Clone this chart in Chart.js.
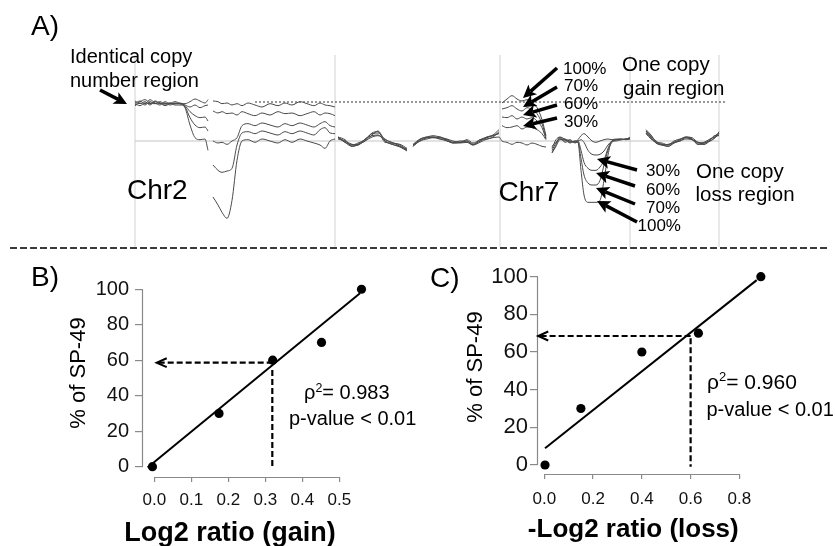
<!DOCTYPE html>
<html><head><meta charset="utf-8">
<script src="https://cdn.jsdelivr.net/npm/chart.js@4.4.0/dist/chart.umd.min.js"></script>
<style>
html,body{margin:0;padding:0;background:#fff;}
#page{position:relative;width:835px;height:546px;overflow:hidden;font-family:"Liberation Sans",Arial,sans-serif;color:#000;}
.t{position:absolute;white-space:nowrap;line-height:1;}
canvas{position:absolute;}
.sup{font-size:0.62em;position:relative;top:-0.55em;}
</style></head><body><div id="page">
<canvas id="cA" width="835" height="250" style="left:0;top:0"></canvas>
<canvas id="cB" width="420" height="296" style="left:0;top:250px"></canvas>
<canvas id="cC" width="425" height="296" style="left:410px;top:250px"></canvas>
<div style="position:absolute;left:10px;top:247px;width:820px;height:2px;background:repeating-linear-gradient(to right,#3a3a3a 0 7px,transparent 7px 10px);"></div>

<div class="t" style="font-size:28px;left:31px;top:11.5px;">A)</div>
<div class="t" style="font-size:20px;left:70px;top:46.4px;">Identical copy</div>
<div class="t" style="font-size:20px;left:70px;top:69.8px;">number region</div>
<div class="t" style="font-size:28px;left:127px;top:176.3px;">Chr2</div>
<div class="t" style="font-size:28px;left:498.6px;top:178px;">Chr7</div>
<div class="t" style="font-size:17px;left:563px;top:59.6px;">100%</div>
<div class="t" style="font-size:17px;left:564px;top:77.3px;">70%</div>
<div class="t" style="font-size:17px;left:564px;top:94.9px;">60%</div>
<div class="t" style="font-size:17px;left:564px;top:112.9px;">30%</div>
<div class="t" style="font-size:20.5px;left:622px;top:54.3px;">One copy</div>
<div class="t" style="font-size:20.5px;left:623px;top:77.6px;">gain region</div>
<div class="t" style="font-size:17px;left:646px;top:162.3px;">30%</div>
<div class="t" style="font-size:17px;left:646px;top:180.6px;">60%</div>
<div class="t" style="font-size:17px;left:646px;top:198.9px;">70%</div>
<div class="t" style="font-size:17px;left:637.5px;top:216.6px;">100%</div>
<div class="t" style="font-size:20.5px;left:696px;top:160.6px;">One copy</div>
<div class="t" style="font-size:20.5px;left:695.5px;top:183.6px;">loss region</div>

<div class="t" style="font-size:28px;left:31px;top:263px;">B)</div>
<div class="t" style="font-size:28px;left:430px;top:263.8px;">C)</div>
<div class="t" style="font-size:20px;left:304px;top:382px;">ρ<span class="sup">2</span>= 0.983</div>
<div class="t" style="font-size:20px;left:289px;top:408px;">p-value &lt; 0.01</div>
<div class="t" style="font-size:21px;left:707px;top:370.5px;">ρ<span class="sup">2</span>= 0.960</div>
<div class="t" style="font-size:20px;left:706.5px;top:399px;">p-value &lt; 0.01</div>
<div class="t" style="font-size:22px;left:3px;top:362.3px;width:150px;text-align:center;transform:rotate(-90deg);">% of SP-49</div>
<div class="t" style="font-size:22px;left:400px;top:355.7px;width:150px;text-align:center;transform:rotate(-90deg);">% of SP-49</div>
<div class="t" style="font-size:27px;font-weight:bold;left:80px;top:518.8px;width:300px;text-align:center;">Log2 ratio (gain)</div>
<div class="t" style="font-size:26px;font-weight:bold;left:483.3px;top:514.7px;width:300px;text-align:center;">-Log2 ratio (loss)</div>
</div>
<script>
// ===================== DATA =====================
// Panel A: genome position index (Chr2 ... Chr7 ... ) and log2 ratio per SP-49 dilution
const genomePos = [0,5,10,15,20,25,30,35,40,45,50, 55,60,65,70,73, 75,
 78,83,87,92,97,102,107,113,120,127,135,143,150,157,165,172,179,185,190,195,200, 201,
 203,210,217,223,230,237,243,250,257,265,272, 275,
 278,285,292,298,305,312,318,325,332,338,345,352,358,364, 366,
 367,372,377,382,387,392,397,402,407,411, 414,
 417,421,425,430,435,440,443,446,449,453,457,461,465,469,473,477,481,486,491,495, 503,
 511,516,521,527,533,539,545,551,557,563,569,575,580,584];

const sp0 = [0.57,0.60,0.56,0.62,0.57,0.54,0.59,0.56,0.57,0.56,0.56, 0.59,0.63,0.60,0.57,0.62, null,
 0.60,0.59,0.56,0.57,0.54,0.56,0.53,0.57,0.54,0.51,0.56,0.53,0.57,0.54,0.59,0.56,0.53,0.57,0.54,0.53,0.51, null,
 0.06,0.02,-0.08,-0.06,0,0.06,0.08,0.02,-0.02,-0.08,-0.14, null,
 -0.08,0,0.03,0.05,0.03,0,-0.03,-0.03,-0.02,-0.06,-0.02,0.03,0.05,0.06, 0.02,
 0,-0.02,-0.05,-0.02,-0.03,-0.06,-0.03,-0.05,-0.08,-0.09, null,
 -0.08,-0.02,0.05,0.03,0,-0.02,0.02,0.08,0.11,0.06,0,-0.02,0,0.02,0.03,0.02,0.03,0.02,0.03,0.05, null,
 0.15,0.08,0,-0.05,-0.08,-0.03,0,0.03,0.02,-0.05,-0.05,0,0.05,0.11];

const sp30 = [0.54,0.59,0.62,0.57,0.56,0.57,0.54,0.57,0.56,0.56,0.54, 0.51,0.54,0.50,0.53,0.54, null,
 0.45,0.42,0.44,0.41,0.42,0.39,0.44,0.41,0.38,0.42,0.39,0.44,0.41,0.42,0.38,0.41,0.44,0.39,0.42,0.41,0.38, null,
 0.05,-0.02,-0.06,-0.03,0.02,0.11,0.12,0.03,-0.03,-0.05,-0.11, null,
 -0.05,0.03,0.06,0.08,0.06,0.03,0,-0.02,0.02,-0.03,0.02,0.06,0.08,0.11, null,
 0.23,0.20,0.21,0.23,0.18,0.21,0.20,0.17,0.11,0.02, null,
 -0.11,0.02,0.06,0.02,-0.02,0,0,0.02,-0.02,-0.14,-0.20,-0.21,-0.20,-0.15,-0.06,0,0.02,0.03,0.02,0.03, null,
 0.12,0.05,-0.03,-0.06,-0.05,-0.02,0.02,0.06,0.05,-0.02,-0.03,0.02,0.08,0.12];

const sp60 = [0.60,0.56,0.59,0.54,0.59,0.56,0.57,0.54,0.56,0.57,0.53, 0.44,0.38,0.35,0.36,0.30, null,
 0,-0.03,-0.02,-0.05,0,0.05,0.23,0.26,0.23,0.27,0.24,0.21,0.26,0.23,0.27,0.24,0.21,0.26,0.29,0.23,0.21, null,
 0.03,0,-0.05,-0.06,0.03,0.08,0.09,0,-0.05,-0.08,-0.12, null,
 -0.06,0.02,0.05,0.06,0.05,0.02,-0.02,0,0,-0.05,0,0.05,0.08,0.12, null,
 0.36,0.35,0.38,0.33,0.36,0.33,0.35,0.30,0.20,0.03, null,
 -0.14,-0.03,0.03,0,0.02,-0.03,0,-0.14,-0.32,-0.41,-0.44,-0.44,-0.39,-0.29,-0.11,0,0.02,0.02,0.03,0.03, null,
 0.11,0.03,-0.02,-0.03,-0.06,0,0.03,0.05,0.03,-0.03,-0.02,0.03,0.06,0.09];

const sp70 = [0.53,0.57,0.54,0.59,0.56,0.59,0.56,0.57,0.54,0.54,0.51, 0.35,0.24,0.20,0.21,0.15, null,
 -0.36,-0.44,-0.47,-0.45,-0.41,-0.06,0.12,0.14,0.11,0.15,0.12,0.09,0.14,0.11,0.15,0.12,0.09,0.17,0.20,0.12,0.11, null,
 0.06,-0.02,-0.08,-0.05,0.02,0.12,0.14,-0.02,-0.03,-0.06,-0.14, null,
 -0.08,0.02,0.06,0.05,0.06,0,-0.02,-0.02,-0.02,-0.06,0.02,0.03,0.06,0.14, null,
 0.48,0.50,0.53,0.48,0.45,0.50,0.47,0.41,0.26,0.05, null,
 -0.17,-0.06,0.05,-0.02,0,-0.02,-0.02,-0.26,-0.51,-0.63,-0.66,-0.66,-0.59,-0.36,-0.14,-0.02,0.02,0.03,0.02,0.05, null,
 0.17,0.09,-0.02,-0.06,-0.08,-0.03,0.02,0.06,0.03,-0.05,-0.03,0,0.05,0.14];

const sp100 = [0.56,0.53,0.57,0.56,0.60,0.57,0.53,0.56,0.59,0.56,0.50, 0.24,0.05,0.02,0.03,-0.14, null,
 -0.84,-0.96,-1.07,-1.16,-0.89,-0.29,0,0.02,-0.02,0.03,0,-0.03,0.02,-0.02,0.03,0,-0.03,-0.06,-0.11,0,0.03, null,
 0.05,0,-0.06,-0.05,0,0.09,0.15,0,-0.05,-0.09,-0.15, null,
 -0.06,0,0.05,0.06,0.03,0.02,-0.03,-0.02,0,-0.05,0,0.06,0.09,0.17, null,
 0.57,0.63,0.68,0.63,0.60,0.62,0.57,0.50,0.32,0.08, null,
 -0.18,-0.08,0.02,0.02,-0.03,0,-0.02,-0.44,-0.81,-0.92,-0.92,-0.92,-0.89,-0.59,-0.21,0,0,0.02,0.03,0.05, null,
 0.14,0.06,-0.03,-0.05,-0.06,-0.02,0,0.05,0.02,-0.02,-0.05,0.02,0.08,0.08];

const sampleNames = ['0%','30%','60%','70%','100%'];
const chromBounds = [0, 200, 365, 495, 584];
const baselineSpan = [0, 584];
const gainLevel = 0.585;            // log2(3/2)
const gainLineSpan = [120, 592];

// Panel B: gain
const gainLog2 = [-0.005, 0.175, 0.32, 0.452, 0.56];
const gainPct  = [0, 30, 60, 70, 100];
const gainFitX = [-0.018, 0.556];
const gainFitY = [-0.4, 97.7];
const gainReadH_X = [0.32, 0.0065], gainReadH_Y = [58.6, 58.6];
const gainReadV_X = [0.319, 0.319], gainReadV_Y = [54.5, -0.9];
const gainTicksX = [0.0, 0.1, 0.2, 0.3, 0.4, 0.5];

// Panel C: loss
const lossLog2 = [0.003, 0.15, 0.40, 0.632, 0.888];
const lossPct  = [0, 30, 60, 70, 100];
const lossFitX = [0.003, 0.871];
const lossFitY = [8.9, 98.2];
const lossReadH_X = [0.6, -0.025], lossReadH_Y = [68.5, 68.5];
const lossReadV_X = [0.6, 0.6], lossReadV_Y = [67.3, -0.9];
const lossTicksX = [0.0, 0.2, 0.4, 0.6, 0.8];
const pctTicks = [0, 20, 40, 60, 80, 100];

// ===================== RENDER =====================
Chart.defaults.font.family = '"Liberation Sans", Arial, sans-serif';
Chart.defaults.color = '#000';
const zip = (xs, ys) => xs.map((x, i) => ({x, y: ys[i]}));

// annotation arrows for panel A (page pixels)
const arrowsA = [
  {tail:[100,90], tip:[127,104]},
  {tail:[557,68], tip:[523,98]},
  {tail:[557,87], tip:[523,107]},
  {tail:[557,105], tip:[523,115]},
  {tail:[557,118], tip:[523,126]},
  {tail:[637,170], tip:[597,159]},
  {tail:[635,186], tip:[596,173]},
  {tail:[635,204], tip:[596,188]},
  {tail:[637,222], tip:[597,201]}
];
function drawArrow(ctx, t, h){
  const a = Math.atan2(h[1]-t[1], h[0]-t[0]);
  const hl = 13, hw = 6.5;
  const c = Math.cos(a), s = Math.sin(a);
  const bx = h[0]-hl*c, by = h[1]-hl*s;
  ctx.lineWidth = 3.5; ctx.lineCap = 'butt';
  ctx.beginPath(); ctx.moveTo(t[0], t[1]); ctx.lineTo(bx+3*c, by+3*s); ctx.stroke();
  ctx.beginPath();
  ctx.moveTo(h[0], h[1]);
  ctx.lineTo(bx - hw*s, by + hw*c);
  ctx.lineTo(bx + 3*c, by + 3*s);
  ctx.lineTo(bx + hw*s, by - hw*c);
  ctx.closePath(); ctx.fill();
}
const arrowPluginA = {
  id:'arrowsA',
  afterDraw(chart){
    const ctx = chart.ctx; ctx.save();
    ctx.strokeStyle = '#000'; ctx.fillStyle = '#000';
    arrowsA.forEach(a => drawArrow(ctx, a.tail, a.tip));
    ctx.restore();
  }
};

const A_YMIN = -1.59, A_YMAX = 1.29;
const dsA = [];
[sp0, sp30, sp60, sp70, sp100].forEach((arr, i) => {
  dsA.push({label: sampleNames[i], data: zip(genomePos, arr), showLine: true, pointRadius: 0,
    borderColor: '#4a4a4a', borderWidth: 1, cubicInterpolationMode: 'monotone', spanGaps: false, order: 1});
});
chromBounds.forEach(b => dsA.push({data: [{x:b, y:A_YMIN}, {x:b, y:A_YMAX}], showLine: true, pointRadius: 0,
  borderColor: '#d2d2d2', borderWidth: 1, order: 5}));
dsA.push({data: zip(baselineSpan, [0, 0]), showLine: true, pointRadius: 0, borderColor: '#c4c4c4', borderWidth: 1, order: 4});
dsA.push({data: zip(gainLineSpan, [gainLevel, gainLevel]), showLine: true, pointRadius: 0, borderColor: '#333',
  borderWidth: 1, borderDash: [2, 2], order: 4});

new Chart(document.getElementById('cA'), {
  type: 'scatter',
  data: {datasets: dsA},
  options: {
    responsive: false, animation: false, devicePixelRatio: 1,
    layout: {padding: {left: 130, right: 105, top: 55, bottom: 3}, autoPadding: false},
    plugins: {legend: {display: false}, tooltip: {enabled: false}},
    scales: {
      x: {type: 'linear', display: false, min: -5, max: 595},
      y: {type: 'linear', display: false, min: A_YMIN, max: A_YMAX}
    }
  },
  plugins: [arrowPluginA]
});

// R-style axis lines from first to last tick + open arrowheads on guide lines
const rAxes = {
  id: 'rAxes',
  afterDraw(chart){
    const ctx = chart.ctx, xs = chart.scales.x, ys = chart.scales.y, ca = chart.chartArea;
    ctx.save(); ctx.strokeStyle = '#8a8a8a'; ctx.lineWidth = 1.2;
    const xt = xs.ticks, yt = ys.ticks;
    ctx.beginPath();
    ctx.moveTo(xs.getPixelForValue(xt[0].value), ca.bottom + 0.5);
    ctx.lineTo(xs.getPixelForValue(xt[xt.length-1].value), ca.bottom + 0.5);
    ctx.moveTo(ca.left - 0.5, ys.getPixelForValue(yt[0].value));
    ctx.lineTo(ca.left - 0.5, ys.getPixelForValue(yt[yt.length-1].value));
    ctx.stroke();
    // arrowheads
    ctx.strokeStyle = '#000'; ctx.lineWidth = 2;
    chart.data.datasets.forEach((ds, i) => {
      if (!ds.arrowEnd) return;
      const pts = chart.getDatasetMeta(i).data;
      const p1 = pts[pts.length-2], p2 = pts[pts.length-1];
      const a = Math.atan2(p2.y-p1.y, p2.x-p1.x), L = 11, w = 0.42;
      ctx.beginPath();
      ctx.moveTo(p2.x - L*Math.cos(a-w), p2.y - L*Math.sin(a-w));
      ctx.lineTo(p2.x, p2.y);
      ctx.lineTo(p2.x - L*Math.cos(a+w), p2.y - L*Math.sin(a+w));
      ctx.stroke();
    });
    ctx.restore();
  }
};

function scatterPanel(id, cfg){
  return new Chart(document.getElementById(id), {
    type: 'scatter',
    data: {datasets: [
      {data: zip(cfg.px, cfg.py), pointRadius: 4.6, pointBackgroundColor: '#000', pointBorderColor: '#000', borderWidth: 0, order: 0},
      {data: zip(cfg.fx, cfg.fy), showLine: true, pointRadius: 0, borderColor: '#000', borderWidth: 2, order: 1},
      {data: zip(cfg.hx, cfg.hy), showLine: true, pointRadius: 0, borderColor: '#000', borderWidth: 2.2, borderDash: [6, 3], order: 2, arrowEnd: true},
      {data: zip(cfg.vx, cfg.vy), showLine: true, pointRadius: 0, borderColor: '#000', borderWidth: 2.2, borderDash: [6, 3], order: 2}
    ]},
    options: {
      responsive: false, animation: false, devicePixelRatio: 1,
      layout: {padding: {left: 0, right: cfg.padR, top: cfg.padT, bottom: 0}, autoPadding: false},
      plugins: {legend: {display: false}, tooltip: {enabled: false}},
      scales: {
        x: {type: 'linear', min: cfg.xmin, max: cfg.xmax,
          afterBuildTicks: s => { s.ticks = cfg.xticks.map(v => ({value: v})); },
          afterFit: s => { s.height = cfg.xH; },
          border: {display: false},
          grid: {drawOnChartArea: false, drawTicks: true, tickLength: 5, color: '#8a8a8a', lineWidth: 1.2},
          ticks: {autoSkip: false, maxRotation: 0, padding: cfg.xPad, color: '#111', font: {size: 17},
            callback: v => Number(v).toFixed(1)}
        },
        y: {type: 'linear', min: cfg.ymin, max: cfg.ymax,
          afterBuildTicks: s => { s.ticks = pctTicks.map(v => ({value: v})); },
          afterFit: s => { s.width = cfg.yW; },
          border: {display: false},
          grid: {drawOnChartArea: false, drawTicks: true, tickLength: 8, color: '#8a8a8a', lineWidth: 1.2},
          ticks: {padding: cfg.yPad, color: '#111', font: {size: cfg.yFont}, callback: v => String(v)}
        }
      }
    },
    plugins: [rAxes]
  });
}

scatterPanel('cB', {
  px: gainLog2, py: gainPct, fx: gainFitX, fy: gainFitY,
  hx: gainReadH_X, hy: gainReadH_Y, vx: gainReadV_X, vy: gainReadV_Y,
  xticks: gainTicksX, xmin: -0.0305, xmax: 0.583, ymin: -5.8, ymax: 105.2,
  padR: 50, padT: 30, xH: 69, yW: 143, xPad: 8, yPad: 6, yFont: 20
});
scatterPanel('cC', {
  px: lossLog2, py: lossPct, fx: lossFitX, fy: lossFitY,
  hx: lossReadH_X, hy: lossReadH_Y, vx: lossReadV_X, vy: lossReadV_Y,
  xticks: lossTicksX, xmin: -0.0258, xmax: 0.946, ymin: -4.78, ymax: 103.56,
  padR: 60, padT: 20, xH: 72, yW: 128, xPad: 10, yPad: 2, yFont: 22
});
</script>
</body></html>
